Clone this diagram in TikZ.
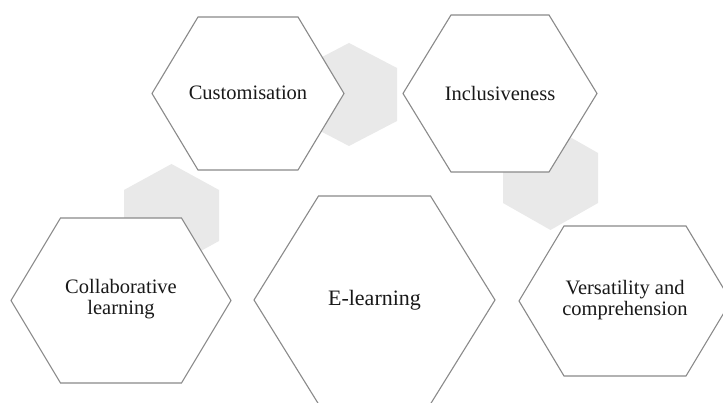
\documentclass[tikz,border=0pt]{standalone}
\usepackage{fontspec}
\setmainfont{Liberation Serif}
\begin{document}
\definecolor{hexline}{HTML}{8A8A8A}
\definecolor{hexshade}{HTML}{E9E9E9}
% flat-topped hexagon: centre x, centre y, half-width, half top edge, half-height, style
\newcommand\flathex[6]{%
  \path[#6] ({#1-#3},{#2}) -- ({#1-#4},{#2+#5}) -- ({#1+#4},{#2+#5})
    -- ({#1+#3},{#2}) -- ({#1+#4},{#2-#5}) -- ({#1-#4},{#2-#5}) -- cycle;}
% pointy-topped hexagon: centre x, centre y, half-width, half-height, half side, style
\newcommand\pointhex[6]{%
  \path[#6] ({#1},{#2+#4}) -- ({#1+#3},{#2+#5}) -- ({#1+#3},{#2-#5})
    -- ({#1},{#2-#4}) -- ({#1-#3},{#2-#5}) -- ({#1-#3},{#2+#5}) -- cycle;}
\begin{tikzpicture}[x=1pt,y=1pt,
  shade/.style={fill=hexshade},
  cell/.style={draw=hexline,line width=1.1pt,fill=white,line join=miter},
  label/.style={align=center,font=\fontsize{20.5}{21}\selectfont,text=black!90}]
\useasboundingbox (0,0) rectangle (723,403);
\fill[white] (0,0) rectangle (723,403);
% background shaded hexagons
\pointhex{349}{308.5}{48}{51.5}{26.5}{shade}
\pointhex{550.5}{225}{47.5}{52}{25}{shade}
\pointhex{171.5}{187.5}{47.5}{51.5}{25.5}{shade}
% outlined hexagons
\flathex{248}{309.5}{96}{50}{76.5}{cell}
\flathex{500}{309.5}{97}{49}{78.5}{cell}
\flathex{121}{102.5}{110}{60.5}{82.5}{cell}
\flathex{374.5}{103}{120.5}{56}{104}{cell}
\flathex{625}{102}{106}{61}{75}{cell}
% labels
\node[label] (cust) at (248,310) {Customisation};
\node[label] (incl) at (500,310) {Inclusiveness};
\node[label] (coll) at (121,104) {Collaborative\\learning};
\node[label,font=\fontsize{22}{22}\selectfont] (elearn) at (374.5,103) {E-learning};
\node[label] (vers) at (625,103) {Versatility and\\comprehension};
\end{tikzpicture}
\end{document}
